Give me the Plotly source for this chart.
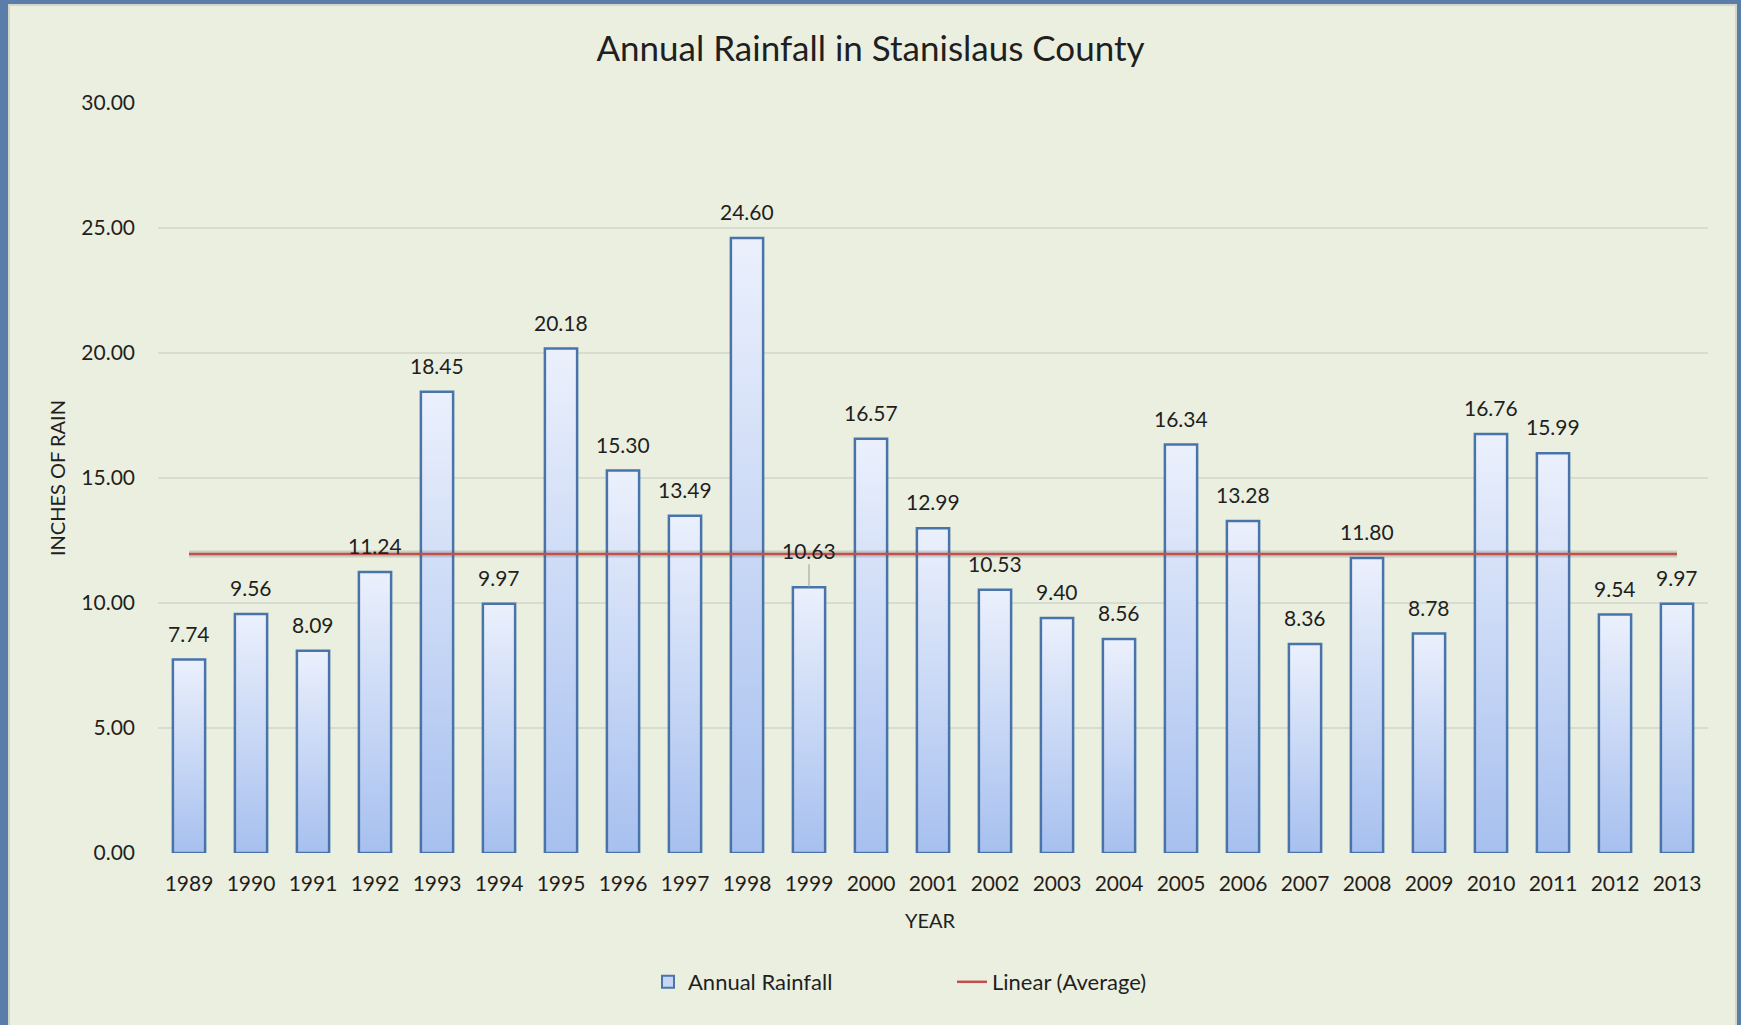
import plotly.graph_objects as go

# chart values
years = list(range(1989, 2014))
rainfall = [7.74, 9.56, 8.09, 11.24, 18.45, 9.97, 20.18, 15.30, 13.49, 24.60,
            10.63, 16.57, 12.99, 10.53, 9.40, 8.56, 16.34, 13.28, 8.36, 11.80,
            8.78, 16.76, 15.99, 9.54, 9.97]
average_level = 11.96
y_ticks = [0, 5, 10, 15, 20, 25, 30]
leader_years = [1999]  # label pushed up with a leader line

W, H = 1741, 1025
ML, MR, MT, MB = 158, 33, 103, 172
BAR_W = 0.52
FONT = "Lato"
TEXT = "#1f1f1f"
PANEL = "#EBEFDF"
BORDER = "#5A7DAA"


def px_x(px):
    return (px - ML) / (W - ML - MR)


def px_y(py):
    return (H - MB - py) / (H - MT - MB)


fig = go.Figure()

# plain bars (legend entry + outline)
fig.add_trace(go.Bar(
    x=years, y=rainfall, width=BAR_W, name="Annual Rainfall",
    marker=dict(color="#C6D6F4", line=dict(color="#4A75AB", width=2)),
    hoverinfo="x+y",
))

# gradient fill laid over each bar
for yr, v in zip(years, rainfall):
    x0, x1 = yr - BAR_W / 2, yr + BAR_W / 2
    fig.add_trace(go.Scatter(
        x=[x0, x0, x1, x1, x0], y=[0, v, v, 0, 0],
        mode="lines", fill="toself",
        fillgradient=dict(type="vertical",
                          colorscale=[[0, "#A7C0EF"], [1, "#EBF0FC"]]),
        line=dict(color="#4874AB", width=2.5),
        showlegend=False, hoverinfo="skip",
    ))

avg = [average_level] * len(years)
# soft shadow under the trend line
fig.add_trace(go.Scatter(
    x=years, y=avg, mode="lines", line=dict(color="rgba(60,60,60,0.18)", width=7),
    showlegend=False, hoverinfo="skip",
))
fig.add_trace(go.Scatter(
    x=years, y=avg, mode="lines", name="Linear (Average)",
    line=dict(color="#C0504D", width=2.5),
))

annotations = []
for yr, v in zip(years, rainfall):
    if yr in leader_years:
        annotations.append(dict(
            x=yr, y=v, text=f"{v:.2f}", showarrow=True, arrowhead=0,
            arrowwidth=1, arrowcolor="#9a9a9a", ax=0, ay=-37,
            font=dict(family=FONT, size=21, color=TEXT),
        ))
    else:
        annotations.append(dict(
            x=yr, y=v, text=f"{v:.2f}", showarrow=False, yanchor="bottom",
            yshift=12, font=dict(family=FONT, size=21, color=TEXT),
        ))

annotations.append(dict(
    xref="paper", yref="paper", x=px_x(57), y=px_y(478), text="INCHES OF RAIN",
    xanchor="center", yanchor="middle",
    textangle=-90, showarrow=False, font=dict(family=FONT, size=20, color=TEXT),
))
annotations.append(dict(
    xref="paper", yref="paper", x=px_x(930), y=px_y(920), text="YEAR",
    xanchor="center", yanchor="middle",
    showarrow=False, font=dict(family=FONT, size=20, color=TEXT),
))

fig.update_layout(
    width=W, height=H,
    margin=dict(l=ML, r=MR, t=MT, b=MB, pad=0),
    paper_bgcolor=BORDER,
    plot_bgcolor="rgba(0,0,0,0)",
    font=dict(family=FONT, color=TEXT, size=21),
    title=dict(text="Annual Rainfall in Stanislaus County", x=0.5, xanchor="center",
               y=1 - 49 / H, yanchor="middle",
               font=dict(family=FONT, size=35, color=TEXT)),
    shapes=[dict(type="rect", xref="paper", yref="paper", layer="below",
                 x0=px_x(9), x1=px_x(1736), y0=px_y(H + 10), y1=px_y(5),
                 fillcolor=PANEL, line=dict(color="#D3D7CA", width=2))],
    annotations=annotations,
    showlegend=True,
    legend=dict(orientation="h", x=px_x(648), y=px_y(982), xanchor="left",
                yanchor="middle", bgcolor="rgba(0,0,0,0)", entrywidth=259,
                font=dict(family=FONT, size=22, color=TEXT)),
    bargap=0,
)

fig.update_xaxes(
    range=[years[0] - 0.5, years[-1] + 0.5],
    tickvals=years, ticktext=[str(y) for y in years],
    showgrid=False, zeroline=False, showline=False, ticks="",
    ticklabelstandoff=16, tickfont=dict(family=FONT, size=21, color=TEXT),
)
fig.update_yaxes(
    range=[0, 30], tickvals=y_ticks, tickformat=".2f",
    showgrid=True, gridcolor="#D7DBD0", gridwidth=1.5, zeroline=False,
    showline=False, ticks="", ticklabelstandoff=22,
    tickfont=dict(family=FONT, size=21, color=TEXT),
)

# drop the browser's default body margin so the figure fills the window
fig.write_html("out.html", config={"displayModeBar": False},
               post_script="document.body.style.margin='0';")
